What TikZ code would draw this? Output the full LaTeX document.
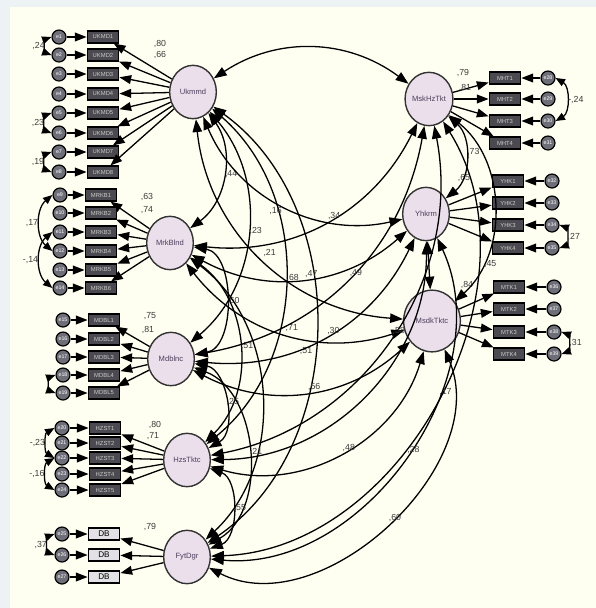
\documentclass[tikz,border=0pt]{standalone}
\usepackage{fontspec}
\setmainfont{Liberation Sans}
\usepackage{tikz}
\usetikzlibrary{arrows.meta,shapes.geometric}
\definecolor{PanelCream}{HTML}{FEFEF1}
\definecolor{FrameGrey}{HTML}{EDF2F4}
\definecolor{LatentLilac}{HTML}{ECDFEC}
\definecolor{BoxGrey}{HTML}{4A4A50}
\definecolor{ErrGrey}{HTML}{6E6E78}
\definecolor{DbPale}{HTML}{E2E2E6}
\definecolor{InkGrey}{HTML}{3C3C3C}
\definecolor{LatInk}{HTML}{4B3F5C}

\begin{document}
\begin{tikzpicture}[x=0.03cm,y=-0.03cm,line width=1.1pt,
    lat/.style={ellipse,draw=black!80,line width=1.2pt,fill=LatentLilac,minimum width=1.4cm,
                minimum height=1.6cm,inner sep=0pt,font=\fontsize{6.5}{7}\selectfont,text=LatInk},
    obs/.style={rectangle,draw=black,line width=1pt,fill=BoxGrey,minimum width=0.95cm,minimum height=0.36cm,
                inner sep=0pt,font=\fontsize{5}{5}\selectfont,text=white!80!black},
    err/.style={circle,draw=black,line width=1pt,fill=ErrGrey,minimum size=0.42cm,inner sep=0pt,
                font=\fontsize{4.5}{5}\selectfont,text=white},
    load/.style={-{Triangle[length=10pt,width=7.5pt]}},
    cov/.style={{Triangle[length=11pt,width=8pt]}-{Triangle[length=11pt,width=8pt]}},
    ecov/.style={{Triangle[length=8pt,width=6.5pt]}-{Triangle[length=8pt,width=6.5pt]}},
    lbl/.style={font=\fontsize{7.5}{8}\selectfont,text=InkGrey,inner sep=1pt}]
  \fill[FrameGrey] (0,0) rectangle (596,608);
  \fill[PanelCream] (10,7) rectangle (596,608);
  \useasboundingbox (0,0) rectangle (596,608);

  % latent variables
  \node[lat] (Ukmmd) at (193,92) {Ukmmd};
  \node[lat] (MrkBlnd) at (170,243) {MrkBlnd};
  \node[lat] (Mdblnc) at (171,359) {Mdblnc};
  \node[lat] (HzsTktc) at (187,460) {HzsTktc};
  \node[lat] (FytDgr) at (187,557) {FytDgr};
  \node[lat] (MskHzTkt) at (429,99) {MskHzTkt};
  \node[lat] (Yhkrm) at (426,214) {Yhkrm};
  \node[lat,minimum width=1.7cm,minimum height=1.85cm] (MsdkTktc) at (432,321) {MsdkTktc};

  % left indicators
  \foreach \y [count=\i] in {37,55,74,94,113,133,152,172}{
    \node[obs] (uk\i) at (103,\y) {UKMD\i};
    \node[err] (euk\i) at (59,\y) {e\i};
    \draw[load] (euk\i) -- (uk\i);
    \draw[load] (Ukmmd) -- (uk\i);
  }
  \foreach \y [count=\i] in {195,213,232,251,270,288}{
    \pgfmathtruncatemacro\k{\i+8}
    \node[obs] (mb\i) at (101,\y) {MRKB\i};
    \node[err] (emb\i) at (60,\y) {e\k};
    \draw[load] (emb\i) -- (mb\i);
    \draw[load] (MrkBlnd) -- (mb\i);
  }
  \foreach \y [count=\i] in {320,339,357,375,393}{
    \pgfmathtruncatemacro\k{\i+14}
    \node[obs] (md\i) at (104,\y) {MDBL\i};
    \node[err] (emd\i) at (63,\y) {e\k};
    \draw[load] (emd\i) -- (md\i);
    \draw[load] (Mdblnc) -- (md\i);
  }
  \foreach \y [count=\i] in {428,443,458,474,490}{
    \pgfmathtruncatemacro\k{\i+19}
    \node[obs] (hz\i) at (105,\y) {HZST\i};
    \node[err] (ehz\i) at (62,\y) {e\k};
    \draw[load] (ehz\i) -- (hz\i);
    \draw[load] (HzsTktc) -- (hz\i);
  }
  \foreach \y [count=\i] in {534,555,577}{
    \pgfmathtruncatemacro\k{\i+24}
    \node[obs,fill=DbPale,text=black,font=\fontsize{7}{7}\selectfont] (fd\i) at (104,\y) {DB};
    \node[err] (efd\i) at (62,\y) {e\k};
    \draw[load] (efd\i) -- (fd\i);
    \draw[load] (FytDgr) -- (fd\i);
  }

  % right indicators
  \foreach \y [count=\i] in {78,99,121,143}{
    \pgfmathtruncatemacro\k{\i+27}
    \node[obs] (mh\i) at (505,\y) {MHT\i};
    \node[err] (emh\i) at (548,\y) {e\k};
    \draw[load] (emh\i) -- (mh\i);
    \draw[load] (MskHzTkt) -- (mh\i);
  }
  \foreach \y [count=\i] in {181,203,225,248}{
    \pgfmathtruncatemacro\k{\i+31}
    \node[obs] (yk\i) at (508,\y) {YHK\i};
    \node[err] (eyk\i) at (552,\y) {e\k};
    \draw[load] (eyk\i) -- (yk\i);
    \draw[load] (Yhkrm) -- (yk\i);
  }
  \foreach \y [count=\i] in {287,309,332,354}{
    \pgfmathtruncatemacro\k{\i+35}
    \node[obs] (ms\i) at (509,\y) {MTK\i};
    \node[err] (ems\i) at (554,\y) {e\k};
    \draw[load] (ems\i) -- (ms\i);
    \draw[load] (MsdkTktc) -- (ms\i);
  }

  % loadings
  \node[lbl] (l1) at (160,44) {,80};
  \node[lbl] (l2) at (160,55) {,66};
  \node[lbl] (l3) at (147,197) {,63};
  \node[lbl] (l4) at (147,210) {,74};
  \node[lbl] (l5) at (150,316) {,75};
  \node[lbl] (l6) at (148,330) {,81};
  \node[lbl] (l7) at (155,425) {,80};
  \node[lbl] (l8) at (153,436) {,71};
  \node[lbl] (l9) at (150,527) {,79};
  \node[lbl] (l10) at (463,73) {,79};
  \node[lbl] (l11) at (465,88) {,81};
  \node[lbl] (l12) at (464,178) {,65};
  \node[lbl] (l13) at (467,285) {,84};

  % error covariances
  \draw[ecov] (euk1.west) to[bend right=70] node[lbl,left]{,24} (euk2.west);
  \draw[ecov] (euk5.west) to[bend right=70] node[lbl,left]{,23} (euk6.west);
  \draw[ecov] (euk7.west) to[bend right=70] node[lbl,left]{,19} (euk8.west);
  \draw[ecov] (emb1.west) to[bend right=50] node[lbl,left]{,17} (emb4.west);
  \draw[ecov] (emb3.west) to[bend right=50] node[lbl,left]{-,14} (emb6.west);
  \draw[ecov] (emd4.west) to[bend right=70] (emd5.west);
  \draw[ecov] (ehz1.west) to[bend right=60] node[lbl,left]{-,23} (ehz3.west);
  \draw[ecov] (ehz3.west) to[bend right=60] node[lbl,left]{-,16} (ehz5.west);
  \draw[ecov] (efd1.west) to[bend right=70] node[lbl,left]{,37} (efd2.west);
  \draw[ecov] (emh1.east) to[bend left=60] node[lbl,right]{-,24} (emh3.east);
  \draw[ecov] (eyk3.east) to[bend left=70] node[lbl,right]{,27} (eyk4.east);
  \draw[ecov] (ems3.east) to[bend left=70] node[lbl,right]{,31} (ems4.east);

  % latent covariances, left column
  \draw[cov] (Ukmmd) to[bend left=45] node[lbl,right]{,44} (MrkBlnd);
  \draw[cov] (Ukmmd) to[bend left=45] node[lbl,right]{,23} (Mdblnc);
  \draw[cov] (Ukmmd) to[bend left=50] node[lbl,right]{,68} (HzsTktc);
  \draw[cov] (Ukmmd) to[bend left=55] node[lbl,left,pos=0.55]{,51} (FytDgr);
  \draw[cov] (MrkBlnd) to[bend left=80] node[lbl,right]{,60} (Mdblnc);
  \draw[cov] (MrkBlnd) to[bend left=50] node[lbl,right]{,51} (HzsTktc);
  \draw[cov] (MrkBlnd) to[bend left=50] (FytDgr);
  \draw[cov] (Mdblnc) to[bend left=70] node[lbl,right]{,25} (HzsTktc);
  \draw[cov] (Mdblnc) to[bend left=65] node[lbl,right]{,21} (FytDgr);
  \draw[cov] (HzsTktc) to[bend left=70] node[lbl,right]{,55} (FytDgr);
  % right column
  \draw[cov] (MskHzTkt) to[bend left=50] node[lbl,above right]{,73} (Yhkrm);
  \draw[cov] (MskHzTkt) to[bend left=50] node[lbl,pos=0.78,right]{,45} (MsdkTktc);
  \draw[cov] (Yhkrm) -- (MsdkTktc);
  % across
  \draw[cov] (Ukmmd) to[bend left=35] (MskHzTkt);
  \draw[cov] (Ukmmd) to[bend right=40] node[lbl,below left]{,16} (Yhkrm);
  \draw[cov] (Ukmmd) to[bend right=40] node[lbl,above right]{,21} (MsdkTktc);
  \draw[cov] (MrkBlnd) to[bend right=35] node[lbl,above right]{,34} (MskHzTkt);
  \draw[cov] (MrkBlnd) to[bend right=35] node[lbl,above right]{,47} (Yhkrm);
  \draw[cov] (MrkBlnd) to[bend right=35] node[lbl,above right]{,71} (MsdkTktc);
  \draw[cov] (Mdblnc) to[bend right=35] node[lbl,above right]{,49} (MskHzTkt);
  \draw[cov] (Mdblnc) to[bend right=35] node[lbl,above right]{,30} (Yhkrm);
  \draw[cov] (Mdblnc) to[bend right=35] node[lbl,above right]{,56} (MsdkTktc);
  \draw[cov] (HzsTktc) to[bend right=45] node[lbl,above right]{,58} (MskHzTkt);
  \draw[cov] (HzsTktc) to[bend right=45] (Yhkrm);
  \draw[cov] (HzsTktc) to[bend right=45] node[lbl,above right]{,48} (MsdkTktc);
  \draw[cov] (FytDgr) to[bend right=60] node[lbl,above right]{,17} (MskHzTkt);
  \draw[cov] (FytDgr) to[bend right=60] node[lbl,above right]{,28} (Yhkrm);
  \draw[cov] (FytDgr) to[bend right=70] node[lbl,above right]{,60} (MsdkTktc);
\end{tikzpicture}
\end{document}
